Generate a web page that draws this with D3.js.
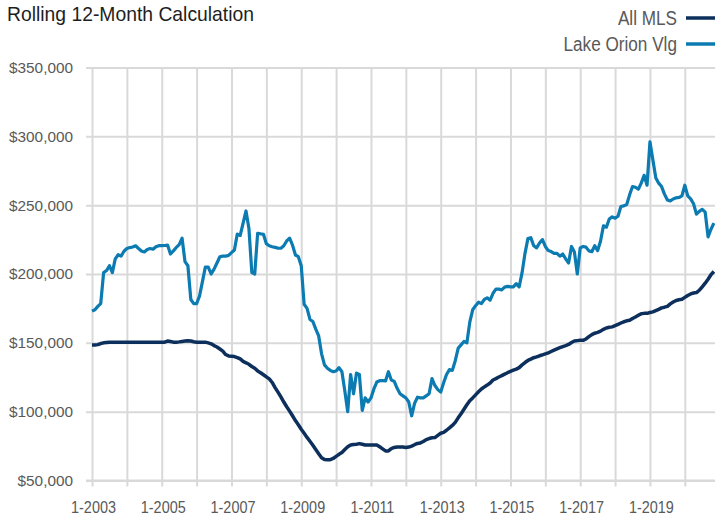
<!DOCTYPE html>
<html><head><meta charset="utf-8">
<script src="https://cdn.jsdelivr.net/npm/d3@7"></script>
<style>
html,body{margin:0;padding:0;background:#fff;}
svg{display:block;}
text{font-family:"Liberation Sans",Arial,sans-serif;}
</style></head>
<body>
<svg id="chart" width="715" height="515"></svg>
<script>
// ---- data (values in thousands of dollars, monthly from 1-2003) ----
const startYear = 2003;
const seriesNames = ["All MLS", "Lake Orion Vlg"];
const allMLS = [
148.5,148.5,148.7,149.5,150,150.3,150.5,150.5,150.5,150.5,
150.5,150.5,150.5,150.5,150.5,150.5,150.5,150.5,150.5,150.5,
150.5,150.5,150.5,150.5,150.5,150.5,151.3,151,150.5,150.5,
150.7,151,151.3,151.5,151.3,150.8,150.5,150.5,150.5,150.5,
150,149.3,148,147,145.5,144,141.5,140.5,140.3,140,
139.3,138.3,136.5,135.5,134.4,132.8,131.5,129.6,128.3,126.8,
125.3,123.8,121.2,117.5,114.2,110.7,107,103.6,100.4,97,
93.5,90.5,87.2,84.3,81.3,78.5,75.6,72.5,69.5,66.5,
65.2,65.1,65.1,66,67.5,69,70.3,72.5,74.5,75.8,
76.1,76.4,76.8,76.3,75.8,75.8,75.8,75.8,75.8,74.5,
73,71.5,71.5,73.2,74,74.4,74.4,74.3,74,74.3,
75,76,76.9,77.3,78.3,79.7,80.5,81,81.2,82.8,
84.3,85,86.5,88.2,90,92.2,95.5,98.5,101.7,105,
108,110,112.2,114.5,116.5,118,119.3,120.8,123,124,
125.2,126.2,127.3,128.3,129.2,130.1,130.9,132,134,135.7,
137.2,138.2,139.2,139.8,140.6,141.3,142,142.7,143.7,144.7,
145.6,146.5,147.3,148,148.8,150.2,151.3,151.6,151.8,151.8,
152.8,154.5,156,157,157.6,158.5,159.8,160.8,161.3,161.6,
162.5,163.4,164.4,165.3,166,166.4,167.7,168.8,170,171.2,
171.4,171.4,172,172.5,173.4,174.3,175.4,175.9,176.5,178.3,
179.7,180.8,181.3,181.6,183,184.4,185.5,186.2,186.5,188.2,
190.7,193.3,196.2,199.5,201.8
];
const lakeOrion = [
173,174,176.5,178.5,201,202.5,206,201,211,214,
213,216.5,218.5,219.2,219.6,220.5,218.5,216.7,216,217.8,
218.5,218,219.8,220.6,220.6,220.7,221,214.5,216.8,219.3,
221.3,226,209,206,181.5,178.5,178.5,184,194.5,205,
205,200,203.5,208,212.5,213,213,213.5,215.5,217.4,
229,228,237,245.8,233,201,200,229.6,229.2,228.9,
222,220.5,219.8,219.3,218.8,218.7,220.5,224,226,221,
213.8,212.6,206,178,175,167,165.5,160,155,142,
134,131.5,130,129,129.5,132,129,115,100,127,
113,128,127,101,110,107,110,116.5,121.5,122.5,
122.5,122.3,129,123,122,117,113,111.5,110,107,
97,106,110.5,110,110,111.5,113,124,119,116,
114.2,121,127,130.5,130,137,146,148.5,151,150,
165,174,177,179.5,178.5,181.5,182.7,181,186,189,
189,188.5,190.5,191,190.7,190.7,193,190.7,201,215,
225.7,226.4,220.5,219,222.5,225,220,217,216.3,215,
215,213,214.5,211,208,220,216,200,219,220,
219.5,216.8,216.2,220.5,217,224,235,234,240,241.5,
240.5,242,249,249.5,250.5,257.5,263.5,263,261.6,266,
271.7,264.5,296,283,270,266,263.5,258,253.7,253.1,
254.5,255.3,255.6,256.7,264.5,256.7,254.6,251,243.5,245.5,
247,245,227,232.5,237
];
const yTicks = [50000,100000,150000,200000,250000,300000,350000];
const gridYears = d3.range(2003, 2021);
const labelYears = [2003,2005,2007,2009,2011,2013,2015,2017,2019];
const colors = ["#0c2f5c", "#0b7bb2"];

// ---- layout ----
const svg = d3.select("#chart");
const mLeft = 92, mTop = 67.5, mBottom = 480.5, mRight = 715;
const pxPerMonth = 2.906;
const nMonths = allMLS.length;
const x = d3.scaleLinear().domain([0, nMonths - 1]).range([mLeft, mLeft + (nMonths - 1) * pxPerMonth]);
const y = d3.scaleLinear().domain([50000, 350000]).range([mBottom, mTop]);
const grid = "#d9d9d9", textCol = "#595959";

// condense text horizontally (narrow-font look) while keeping it real text
function squeeze(sel, factor) {
  sel.each(function () {
    const w = this.getComputedTextLength();
    d3.select(this).attr("textLength", w * factor).attr("lengthAdjust", "spacingAndGlyphs");
  });
}

// horizontal gridlines via axis
const yAxis = d3.axisLeft(y).tickValues(yTicks).tickSize(-(mRight - mLeft + 6)).tickPadding(12)
  .tickFormat(d => "$" + d3.format(",")(d));
const gy = svg.append("g").attr("transform", `translate(${mLeft - 6},0)`).call(yAxis);
gy.select(".domain").remove();
gy.selectAll(".tick line").attr("stroke", grid).attr("stroke-width", 2);
gy.selectAll(".tick text").attr("fill", textCol).attr("font-size", 15.5).attr("x", -13)
  .style("font-family", '"Liberation Sans",Arial,sans-serif');
squeeze(gy.selectAll(".tick text"), 0.99);

// vertical gridlines via bottom axis
const monthOf = yr => (yr - startYear) * 12;
const xAxis = d3.axisBottom(x).tickValues(gridYears.map(monthOf)).tickSize(6)
  .tickFormat(() => "");
const gx = svg.append("g").attr("transform", `translate(0,${mBottom})`).call(xAxis);
gx.select(".domain").remove();
gx.selectAll(".tick line").attr("stroke", grid).attr("stroke-width", 2).attr("y1", -(mBottom - mTop)).attr("y2", 6);
// bottom axis line
svg.append("line").attr("x1", mLeft - 6).attr("x2", mRight).attr("y1", mBottom).attr("y2", mBottom)
  .attr("stroke", grid).attr("stroke-width", 2);

// x labels
const xl = svg.append("g").selectAll("text").data(labelYears).join("text")
  .attr("x", d => x(monthOf(d)) + 1.5).attr("y", 512.5)
  .attr("text-anchor", "middle").attr("fill", textCol).attr("font-size", 16)
  .text(d => "1-" + d);
squeeze(xl, 0.9);

// lines
const line = d3.line().x((d, i) => x(i)).y(d => y(d * 1000));
svg.append("path").datum(lakeOrion).attr("d", line).attr("fill", "none")
  .attr("stroke", colors[1]).attr("stroke-width", 3.2).attr("stroke-linejoin", "round");
svg.append("path").datum(allMLS).attr("d", line).attr("fill", "none")
  .attr("stroke", colors[0]).attr("stroke-width", 3.5).attr("stroke-linejoin", "round");

// title
const title = svg.append("text").attr("x", 7).attr("y", 21).attr("font-size", 21).attr("fill", "#1e1e1e")
  .text("Rolling 12-Month Calculation");
squeeze(title, 0.92);

// legend
const lg = svg.append("g").selectAll("g").data(seriesNames).join("g")
  .attr("transform", (d, i) => `translate(0,${18 + i * 26})`);
const lt = lg.append("text").attr("x", 677).attr("y", 7).attr("text-anchor", "end")
  .attr("font-size", 19.5).attr("fill", textCol).text(d => d);
squeeze(lt, 0.88);
lg.append("line").attr("x1", 686).attr("x2", 716).attr("y1", 0).attr("y2", 0)
  .attr("stroke", (d, i) => colors[i]).attr("stroke-width", 3.5);
</script>
</body></html>
